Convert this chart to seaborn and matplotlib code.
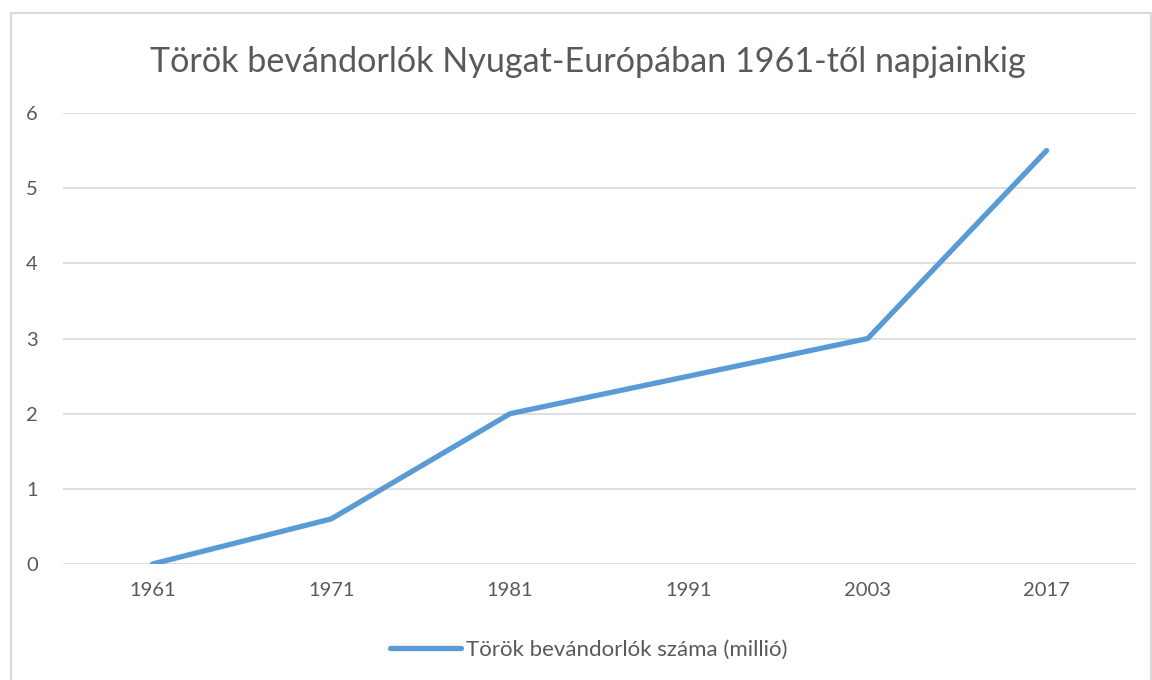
import pandas as pd
import matplotlib.pyplot as plt
import seaborn as sns
from matplotlib.patches import Rectangle

years = ['1961', '1971', '1981', '1991', '2003', '2017']
migrants = [0, 0.6, 2.0, 2.5, 3.0, 5.5]
series_name = 'Török bevándorlók száma (millió)'
title = 'Török bevándorlók Nyugat-Európában 1961-től napjainkig'

data = pd.DataFrame({'Year': years, 'Migrants': migrants})

sns.set_theme(style='white')
plt.rcParams['font.family'] = ['Lato', 'DejaVu Sans']

fig = plt.figure(figsize=(11.52, 6.8), dpi=100)
ax = fig.add_axes([63 / 1152, 1 - 564 / 680, (1136 - 63) / 1152, (564 - 113) / 680])

sns.lineplot(x='Year', y='Migrants', data=data, ax=ax, color='#5B9BD5',
             linewidth=3.8, solid_capstyle='round', label=series_name, sort=False)

ax.set_xlim(-0.5, len(years) - 0.5)
ax.set_ylim(0, 6)
ax.set_yticks(range(0, 7))
ax.yaxis.grid(True, color='#D9D9D9', linewidth=1.2)
ax.set_axisbelow(True)
for s in ax.spines.values():
    s.set_visible(False)
ax.set_xlabel('')
ax.set_ylabel('')
ax.tick_params(axis='both', length=0, labelsize=14.5, labelcolor='#595959')
ax.tick_params(axis='x', pad=13)
ax.tick_params(axis='y', pad=18)

fig.text(588 / 1152, 1 - 62 / 680, title, ha='center', va='center',
         fontsize=24.6, color='#595959')

ax.legend(loc='center', bbox_to_anchor=(0.49, -0.19), frameon=False,
          fontsize=16, labelcolor='#595959', handlelength=3.2, handletextpad=0.2)

fig.patches.append(Rectangle((11 / 1152, -0.01), 1140 / 1152, 1 - 13 / 680 + 0.01,
                             transform=fig.transFigure, fill=False,
                             edgecolor='#D9D9D9', linewidth=1.5))

plt.savefig('out.png')
